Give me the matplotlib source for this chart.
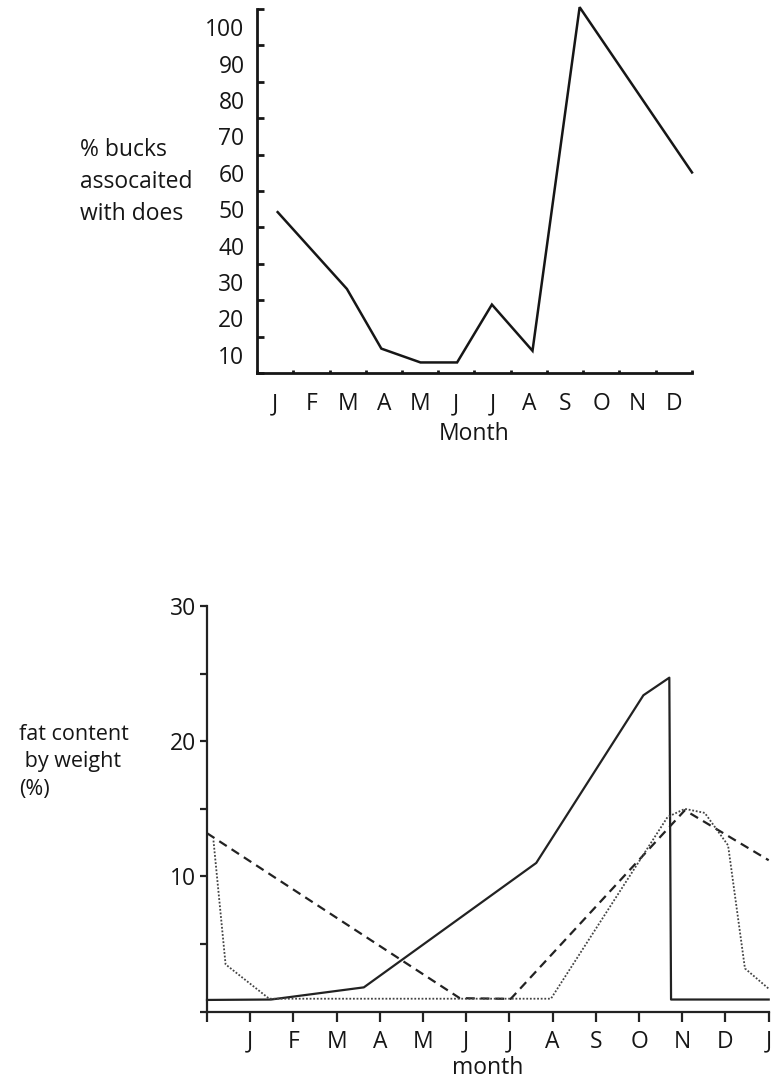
import matplotlib
matplotlib.use("Agg")
import matplotlib.pyplot as plt

plt.rcParams['font.family'] = ['Open Sans', 'DejaVu Sans']

# top panel: bucks with does, by month (x in month units from Jan 1)
buck_month = [0.57, 2.48, 3.43, 4.51, 5.52, 6.48, 7.60, 8.90, 12.0]
buck_pct = [44.2, 23.1, 6.7, 2.9, 2.9, 18.8, 6.1, 100.5, 55.1]
top_months = ["J", "F", "M", "A", "M", "J", "J", "A", "S", "O", "N", "D"]
top_ylabels = ["10", "20", "30", "40", "50", "60", "70", "80", "90", "100"]

# bottom panel: fat content, three series
solid_x = [0.0, 1.48, 3.63, 7.62, 10.10, 10.70, 10.74, 13.0]
solid_y = [0.87, 0.9, 1.8, 11.0, 23.4, 24.7, 0.9, 0.9]
dashed_x = [0.0, 5.85, 7.03, 11.06, 13.0]
dashed_y = [13.2, 1.0, 0.95, 14.9, 11.2]
dotted_x = [0.15, 0.43, 1.44, 7.96, 10.66, 11.06, 11.52, 12.06, 12.45, 13.0]
dotted_y = [12.65, 3.5, 0.96, 0.96, 14.4, 15.0, 14.7, 12.3, 3.2, 1.7]
bottom_months = ["J", "F", "M", "A", "M", "J", "J", "A", "S", "O", "N", "D", "J"]

ink = '#161616'
fig = plt.figure(figsize=(7.71, 10.81), dpi=100)

# ---- top chart
ax1 = fig.add_axes([257/771, 1 - 373/1081, 435/771, 364/1081])
ax1.plot(buck_month, buck_pct, color=ink, lw=1.8, clip_on=False,
         solid_joinstyle='miter')
ax1.set_xlim(0, 12)
ax1.set_ylim(0, 100)
for s in ['top', 'right']:
    ax1.spines[s].set_visible(False)
for s in ['left', 'bottom']:
    ax1.spines[s].set_linewidth(2.0)
    ax1.spines[s].set_color(ink)

# labels sit half a step below the tick marks, as in the original
ax1.set_yticks([v - 5 for v in range(10, 101, 10)])
ax1.set_yticklabels(top_ylabels)
ax1.set_yticks(list(range(0, 101, 10)), minor=True)
ax1.tick_params(axis='y', which='major', length=0, pad=9, labelsize=16.5,
                labelcolor=ink)
ax1.tick_params(axis='y', which='minor', direction='in', length=5, width=2,
                color=ink)

ax1.set_xticks([k + 0.5 for k in range(12)])
ax1.set_xticklabels(top_months)
ax1.set_xticks(list(range(13)), minor=True)
ax1.tick_params(axis='x', which='major', length=0, pad=14, labelsize=16.5,
                labelcolor=ink)
ax1.tick_params(axis='x', which='minor', direction='in', length=2.5, width=2,
                color=ink)

fig.text(474/771, 1 - 434/1081, "Month", ha='center', va='center',
         fontsize=16.5, color=ink)
fig.text(80/771, 1 - 182/1081, "% bucks\nassocaited\nwith does", ha='left',
         va='center', fontsize=16.5, linespacing=1.45, color=ink)

# ---- bottom chart
ax2 = fig.add_axes([207/771, 1 - 1011.7/1081, 561.7/771, 405.7/1081])
ax2.plot(solid_x, solid_y, color='#222222', lw=1.6, clip_on=False)
ax2.plot(dashed_x, dashed_y, color='#222222', lw=1.6, linestyle=(0, (4, 2.6)),
         clip_on=False)
ax2.plot(dotted_x, dotted_y, color='#444444', lw=1.3, linestyle=(0, (1, 1)),
         clip_on=False)
ax2.set_xlim(0, 13)
ax2.set_ylim(0, 30)
for s in ['top', 'right']:
    ax2.spines[s].set_visible(False)
for s in ['left', 'bottom']:
    ax2.spines[s].set_linewidth(1.6)
    ax2.spines[s].set_color('#222222')

ax2.set_yticks([0, 10, 20, 30])
ax2.set_yticklabels(["", "10", "20", "30"])
ax2.set_yticks([5, 15, 25], minor=True)
ax2.tick_params(axis='y', which='both', direction='out', length=5, width=1.6,
                pad=3, labelsize=16.5, color='#222222', labelcolor=ink)

ax2.set_xticks(list(range(14)))
ax2.set_xticklabels([""] + bottom_months)
ax2.tick_params(axis='x', which='major', direction='out', length=7, width=1.6,
                pad=6, labelsize=16.5, color='#222222', labelcolor=ink)

fig.text(488/771, 1 - 1068/1081, "month", ha='center', va='center',
         fontsize=16.5, color=ink)
fig.text(19/771, 1 - 762/1081, "fat content\n by weight\n(%)", ha='left',
         va='center', fontsize=15.5, linespacing=1.4, color=ink)

fig.savefig("out.png", dpi=100)
